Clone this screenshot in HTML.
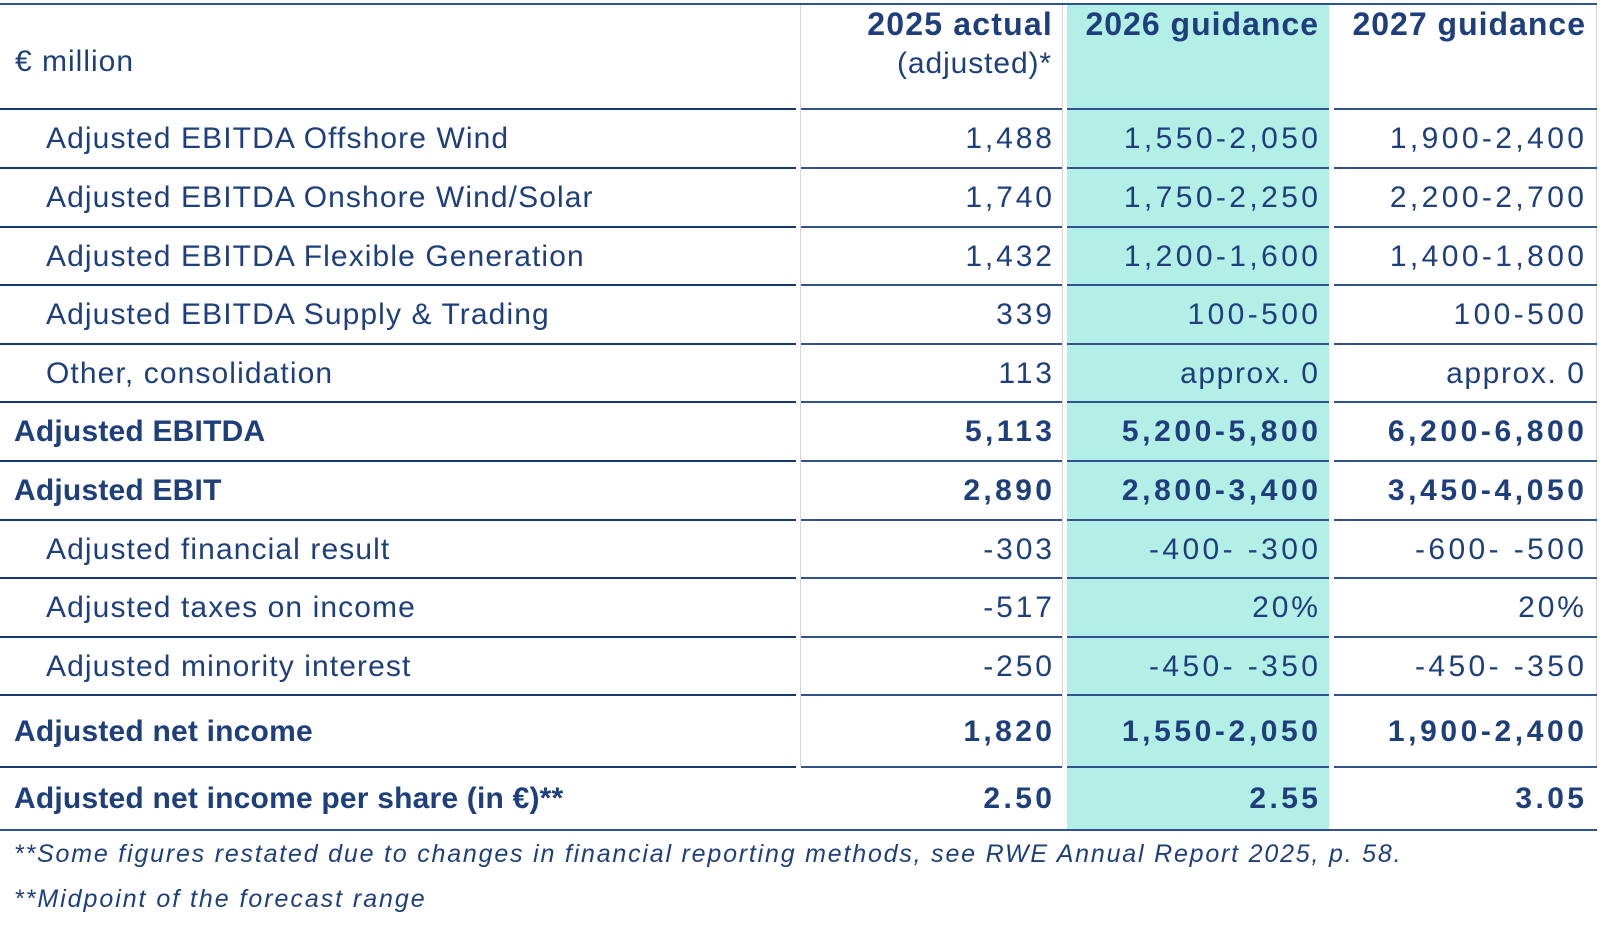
<!DOCTYPE html>
<html><head><meta charset="utf-8"><style>
*{margin:0;padding:0;box-sizing:border-box}
html,body{width:1600px;height:926px;background:#fff;overflow:hidden}
body{position:relative;font-family:"Liberation Sans",sans-serif;color:#1e3f7b}
.a{position:absolute}
.hl{position:absolute;height:2px;background:#2f5290}
.hl.l{background:#1a3573}
.vg{position:absolute;width:1px;background:#d6d6d6}
.t{position:absolute;white-space:nowrap;display:flex;align-items:center}
.lab{left:46px;font-size:30px;letter-spacing:1.1px}
.lab.b{left:14px;font-weight:bold;letter-spacing:0.2px}
.n{font-size:30px;justify-content:flex-end}
.n.b{font-weight:bold}
.c2{left:801px}
.c3{left:1067px}
.c4{left:1334px}
.h{font-size:32px;font-weight:bold;letter-spacing:1.2px;justify-content:flex-end}
.fn{position:absolute;left:14px;font-size:25px;font-style:italic;line-height:30px;letter-spacing:1.8px;white-space:nowrap}
</style></head><body>
<div class="a" style="left:1067px;top:4px;width:262px;height:826px;background:#b3efe6"></div>
<div class="vg" style="left:800px;top:5px;height:762px"></div>
<div class="vg" style="left:1062px;top:5px;height:762px"></div>
<div class="vg" style="left:1596px;top:5px;height:762px"></div>
<div class="hl" style="left:0;top:3px;width:1597px"></div>

<div id="lines"></div>
<div class="hl" style="left:0;top:829px;width:1597px"></div>

<div class="t" style="left:15px;top:44px;height:36px;font-size:30px;letter-spacing:1px">€ million</div>
<div class="t h c2" style="top:5px;height:38px;width:252px">2025 actual</div>
<div class="t c2" style="top:45px;height:38px;width:251px;font-size:30px;letter-spacing:0.9px;justify-content:flex-end">(adjusted)*</div>
<div class="t h c3" style="top:5px;height:38px;width:252px;letter-spacing:1px">2026 guidance</div>
<div class="t h c4" style="top:5px;height:38px;width:252px;letter-spacing:1px">2027 guidance</div>

<div id="rows"></div>

<div class="fn" style="top:839px">**Some figures restated due to changes in financial reporting methods, see RWE Annual Report 2025, p. 58.</div>
<div class="fn" style="top:884px;letter-spacing:1.95px">**Midpoint of the forecast range</div>

<script>
var ys=[109,168,227,285,344,402,461,520,578,637,695,767];
var h='';
ys.forEach(function(y){
  h+='<div class="hl l" style="left:0;top:'+(y-1)+'px;width:796px"></div>';
  h+='<div class="hl" style="left:801px;top:'+(y-1)+'px;width:261px"></div>';
  h+='<div class="hl" style="left:1067px;top:'+(y-1)+'px;width:262px"></div>';
  h+='<div class="hl" style="left:1334px;top:'+(y-1)+'px;width:263px"></div>';
});
document.getElementById('lines').innerHTML=h;
var rows=[
 ['Adjusted EBITDA Offshore Wind','1,488','1,550-2,050','1,900-2,400',0],
 ['Adjusted EBITDA Onshore Wind/Solar','1,740','1,750-2,250','2,200-2,700',0],
 ['Adjusted EBITDA Flexible Generation','1,432','1,200-1,600','1,400-1,800',0],
 ['Adjusted EBITDA Supply &amp; Trading','339','100-500','100-500',0],
 ['Other, consolidation','113','approx. 0','approx. 0',0],
 ['Adjusted EBITDA','5,113','5,200-5,800','6,200-6,800',1],
 ['Adjusted EBIT','2,890','2,800-3,400','3,450-4,050',1],
 ['Adjusted financial result','-303','-400- -300','-600- -500',0],
 ['Adjusted taxes on income','-517','20%','20%',0],
 ['Adjusted minority interest','-250','-450- -350','-450- -350',0],
 ['Adjusted net income','1,820','1,550-2,050','1,900-2,400',1],
 ['Adjusted net income per share (in €)**','2.50','2.55','3.05',2]
];
function lsFor(s,b){
  if(s.indexOf('approx')>=0) return 1.6;
  var hy=s.indexOf('-',1)>0;
  if(b) return hy?3.6:3.4;
  return hy?3.4:2.9;
}
var bounds=[109,168,227,285,344,402,461,520,578,637,695,767,830];
var r='';
rows.forEach(function(row,i){
  var t=bounds[i]+1,hh=bounds[i+1]-bounds[i]-1;
  var b=row[4]?' b':'';
  var st='top:'+t+'px;height:'+hh+'px;';
  r+='<div class="t lab'+b+'" style="'+st+'">'+row[0]+'</div>';
  var cols=[['c2',row[1],251],['c3',row[2],251],['c4',row[3],250]];
  cols.forEach(function(c){
    var ls=lsFor(c[1],row[4]);
    r+='<div class="t n'+b+' '+c[0]+'" style="'+st+'width:'+(c[2]+ls)+'px;letter-spacing:'+ls+'px">'+c[1]+'</div>';
  });
});
document.getElementById('rows').innerHTML=r;
</script>
</body></html>
